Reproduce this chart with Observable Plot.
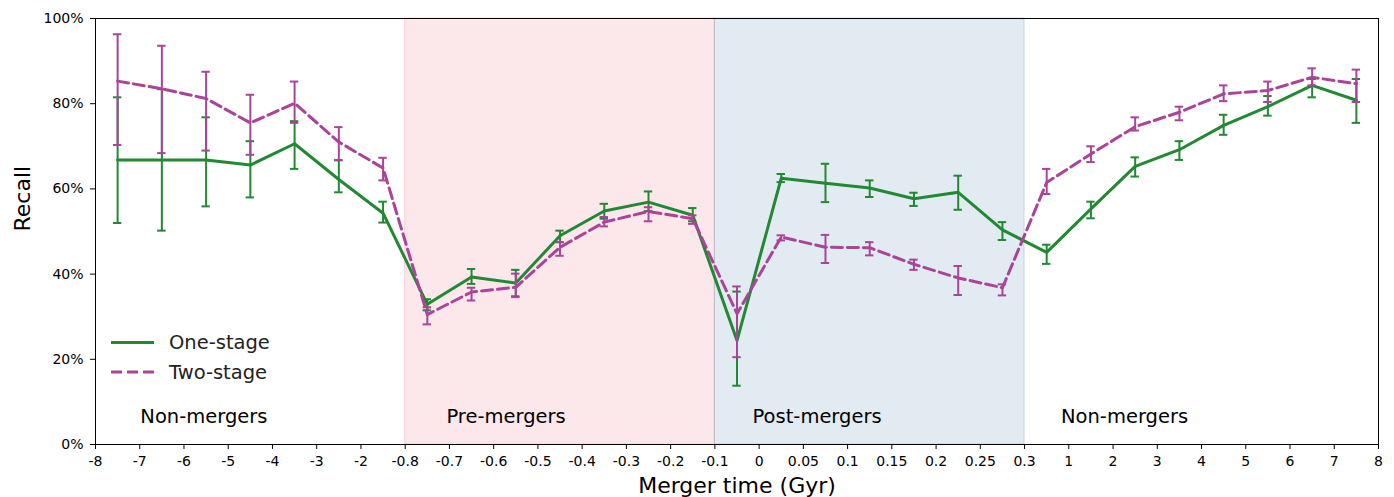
<!DOCTYPE html>
<html>
<head>
<meta charset="utf-8">
<script src="https://cdn.jsdelivr.net/npm/d3@7"></script>
<script src="https://cdn.jsdelivr.net/npm/@observablehq/plot@0.6"></script>
<style>
  body { margin: 0; background: #fff; font-family: "DejaVu Sans", sans-serif; }
  #wrap { position: relative; width: 1394px; height: 497px; }
  #legend { position: absolute; left: 0; top: 0; pointer-events: none; }
</style>
</head>
<body>
<div id="wrap"></div>
<script>
// Tick labels of the piecewise merger-time axis (one evenly spaced slot per tick)
const xTickLabels = ["-8","-7","-6","-5","-4","-3","-2","-0.8","-0.7","-0.6","-0.5","-0.4","-0.3","-0.2","-0.1",
                     "0","0.05","0.1","0.15","0.2","0.25","0.3","1","2","3","4","5","6","7","8"];
const yTicks = [0, 20, 40, 60, 80, 100];

// Recall (%) per merger-time bin, with lower / upper error bounds
const oneStage   = [66.8,66.8,66.8,65.6,70.6,62.2,54.3,32.9,39.3,37.9,49.0,54.8,56.9,53.8,24.4,62.5,61.3,60.2,57.7,59.2,50.4,45.1,55.3,65.3,69.2,74.9,79.3,84.3,80.8];
const oneStageLo = [52.0,50.2,55.9,58.0,64.7,59.2,52.1,31.5,37.7,34.8,47.5,53.0,54.8,52.4,13.8,61.6,56.9,58.1,56.0,55.1,48.0,42.4,53.1,62.9,66.8,72.7,77.2,81.5,75.5];
const oneStageHi = [81.5,83.4,76.8,71.2,75.9,66.7,57.0,34.1,41.2,41.0,50.2,56.5,59.4,55.5,35.9,63.5,65.9,62.0,59.1,63.1,52.2,46.9,57.0,67.4,71.2,77.4,81.8,85.8,85.8];

const twoStage   = [85.3,83.5,81.2,75.5,80.1,71.0,64.9,30.5,35.8,36.9,46.3,52.2,54.7,53.0,30.7,48.7,46.3,46.2,42.3,39.1,36.8,61.5,68.2,74.6,78.0,82.3,83.1,86.2,84.7];
const twoStageLo = [70.3,68.4,69.0,68.0,75.5,66.8,62.0,28.2,33.8,34.6,44.3,51.2,52.4,51.8,20.5,47.9,42.6,44.4,41.0,35.1,35.0,58.8,66.3,73.7,76.1,80.6,80.4,84.3,80.4];
const twoStageHi = [96.3,93.6,87.5,82.1,85.2,74.5,67.3,32.2,36.8,40.1,47.5,53.4,55.7,53.8,37.1,49.1,49.2,47.5,43.4,41.9,37.6,64.7,70.0,76.8,79.3,84.3,85.2,88.3,88.0];

// Merger-phase regions, bounded by tick labels
const regionNames  = ["Non-mergers", "Pre-mergers", "Post-mergers", "Non-mergers"];
const regionBounds = [["-8","-0.8"], ["-0.8","-0.1"], ["-0.1","0.3"], ["0.3","8"]];
const regionFills  = [null, "#EE6677", "#4477AA", null];

const seriesNames = ["One-stage", "Two-stage"];
const seriesColors = ["#228833", "#AA4499"];

// label anchor, in tick slots from the start of each region
const labelOffsets = [2.45, 2.28, 2.31, 2.26];

const regions = regionNames.map((name, i) => ({
  name,
  start: xTickLabels.indexOf(regionBounds[i][0]),
  end: xTickLabels.indexOf(regionBounds[i][1]),
  fill: regionFills[i],
  labelX: xTickLabels.indexOf(regionBounds[i][0]) + labelOffsets[i]
}));

function rowsFor(vals, lo, hi) {
  return vals.map((v, i) => ({x: i + 0.5, v, lo: lo[i], hi: hi[i]}));
}
const one = rowsFor(oneStage, oneStageLo, oneStageHi);
const two = rowsFor(twoStage, twoStageLo, twoStageHi);

const capHalf = 0.095;
function seriesMarks(rows, color, dash) {
  return [
    Plot.ruleX(rows, {x: "x", y1: "lo", y2: "hi", stroke: color, strokeWidth: 2}),
    Plot.ruleY(rows, {y: "lo", x1: d => d.x - capHalf, x2: d => d.x + capHalf, stroke: color, strokeWidth: 2}),
    Plot.ruleY(rows, {y: "hi", x1: d => d.x - capHalf, x2: d => d.x + capHalf, stroke: color, strokeWidth: 2}),
    Plot.line(rows, {x: "x", y: "v", stroke: color, strokeWidth: 3, strokeDasharray: dash, strokeLinejoin: "round"})
  ];
}

const chart = Plot.plot({
  width: 1394,
  height: 497,
  marginLeft: 95,
  marginRight: 16,
  marginTop: 18,
  marginBottom: 53,
  style: {fontFamily: "DejaVu Sans", fontSize: "14px", color: "black", background: "white", overflow: "visible"},
  x: {domain: [0, xTickLabels.length - 1]},
  y: {domain: [0, 100]},
  marks: [
    Plot.rect(regions.filter(r => r.fill), {
      x1: "start", x2: "end", y1: 0, y2: 100,
      fill: "fill", fillOpacity: 0.15, stroke: "fill", strokeOpacity: 0.25, strokeWidth: 1
    }),
    Plot.text(regions, {x: "labelX", y: 6.6, text: "name", fontSize: 19.5, fill: "black"}),
    ...seriesMarks(one, seriesColors[0], null),
    ...seriesMarks(two, seriesColors[1], "11,5"),
    Plot.axisX({ticks: d3.range(xTickLabels.length), tickFormat: i => xTickLabels[i], tickSize: 5, tickPadding: 7, label: null}),
    Plot.axisY({ticks: yTicks, tickFormat: d => d + "%", tickSize: 5, tickPadding: 7, label: null}),
    Plot.text(["Merger time (Gyr)"], {frameAnchor: "bottom", dy: 48, fontSize: 22, fill: "black"}),
    Plot.text(["Recall"], {frameAnchor: "left", dx: -73, rotate: -90, fontSize: 22, fill: "black"}),
    Plot.frame({stroke: "black", strokeWidth: 1})
  ]
});

const wrap = document.getElementById("wrap");
wrap.appendChild(chart);

// Legend drawn over the lower-left corner of the plot
const legend = d3.select(wrap).append("svg")
  .attr("id", "legend").attr("width", 1394).attr("height", 497);
seriesNames.forEach((name, i) => {
  const y = 342.5 + i * 29.5;
  legend.append("line")
    .attr("x1", 111).attr("x2", 154).attr("y1", y).attr("y2", y)
    .attr("stroke", seriesColors[i]).attr("stroke-width", 3)
    .attr("stroke-dasharray", i === 1 ? "11,5" : null);
  legend.append("text")
    .attr("x", 169).attr("y", y).attr("dy", "0.35em")
    .attr("font-family", "DejaVu Sans").attr("font-size", 19.5).attr("fill", "#222")
    .text(name);
});
</script>
</body>
</html>
